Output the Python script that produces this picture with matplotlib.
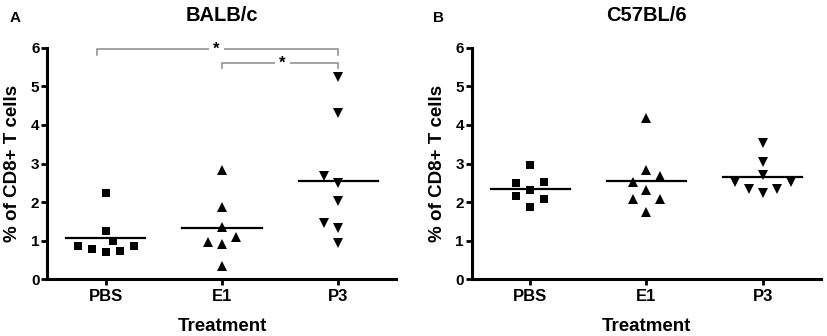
import matplotlib
matplotlib.use("Agg")
import matplotlib.pyplot as plt
import numpy as np

plt.rcParams['font.family'] = ['Liberation Sans', 'DejaVu Sans']
plt.rcParams['font.weight'] = 'bold'

categories = ["PBS", "E1", "P3"]
yticks = [0, 1, 2, 3, 4, 5, 6]

# Panel A: BALB/c
a_pbs = [0.86, 0.78, 0.72, 1.26, 2.24, 1.00, 0.74, 0.86]
a_e1 = [2.83, 1.88, 1.35, 0.97, 0.91, 1.09, 0.34]
a_p3 = [5.23, 4.32, 2.68, 2.49, 2.04, 1.47, 1.32, 0.93]
# Panel B: C57BL/6
b_pbs = [2.96, 2.50, 2.53, 2.31, 2.16, 2.07, 1.87]
b_e1 = [4.17, 2.83, 2.68, 2.53, 2.31, 2.07, 2.07, 1.75]
b_p3 = [3.52, 3.05, 2.70, 2.53, 2.53, 2.33, 2.33, 2.23]

# horizontal scatter slots (column-scatter layout, in slot units)
a_pbs_slot = [-2, -1, 0, 0, 0, 0.5, 1, 2]
a_e1_slot = [0, 0, 0, -1, 0, 1, 0]
a_p3_slot = [0, 0, -1, 0, 0, -1, 0, 0]
b_pbs_slot = [0, -1, 1, 0, -1, 1, 0]
b_e1_slot = [0, 0, 1, -1, 0, -1, 1, 0]
b_p3_slot = [0, 0, 0, -2, 2, -1, 1, 0]

markers = ['s', '^', 'v']
msizes = [5.6, 6.8, 6.8]
SLOT = 0.12

fig = plt.figure(figsize=(8.27, 3.36), dpi=100)
axA = fig.add_axes([0.0574, 0.1688, 0.422, 0.689])
axB = fig.add_axes([0.5707, 0.1688, 0.422, 0.689])

panels = [
    (axA, [a_pbs, a_e1, a_p3], [a_pbs_slot, a_e1_slot, a_p3_slot], "BALB/c"),
    (axB, [b_pbs, b_e1, b_p3], [b_pbs_slot, b_e1_slot, b_p3_slot], "C57BL/6"),
]

for ax, groups, slots, title in panels:
    for i, (vals, sl) in enumerate(zip(groups, slots)):
        xpos = i + 1 + np.array(sl) * SLOT
        ax.plot(xpos, vals, linestyle='none', marker=markers[i],
                markersize=msizes[i], color='black', markeredgewidth=0, zorder=3)
        m = np.mean(vals)
        ax.plot([i + 1 - 0.34, i + 1 + 0.34], [m, m], color='black', lw=1.6, zorder=4)
    ax.set_xlim(0.5, 3.5)
    ax.set_ylim(0, 6)
    ax.set_yticks(yticks)
    ax.set_xticks([1, 2, 3])
    ax.set_xticklabels(categories, fontsize=12, fontweight='bold')
    ax.set_yticklabels([str(t) for t in yticks], fontsize=11, fontweight='bold')
    for s in ['top', 'right']:
        ax.spines[s].set_visible(False)
    for s in ['left', 'bottom']:
        ax.spines[s].set_linewidth(2.2)
    ax.tick_params(axis='both', width=2.0, length=4.3, direction='out')
    ax.tick_params(axis='y', pad=1.5)
    ax.tick_params(axis='x', pad=3)
    ax.set_xlabel("Treatment", fontsize=13.5, fontweight='bold', labelpad=10)
    ax.set_ylabel("% of CD8+ T cells", fontsize=13.5, fontweight='bold', labelpad=7)
    ax.set_title(title, fontsize=14.5, fontweight='bold', pad=19)
    ax.patch.set_alpha(0)

fig.text(0.0121, 0.945, "A", fontsize=11, fontweight='bold', ha='left', va='center')
fig.text(0.5236, 0.945, "B", fontsize=11, fontweight='bold', ha='left', va='center')

# significance brackets on panel A
gray = '#8a8a8a'
def bracket(ax, x1, x2, y, drop, star_x):
    ax.plot([x1, x1, x2, x2], [y - drop, y, y, y - drop], color=gray, lw=1.1,
            clip_on=False, zorder=2, solid_joinstyle='miter')
    ax.text(star_x, y, "*", ha='center', va='center', fontsize=12, fontweight='bold',
            color='black', zorder=5,
            bbox=dict(boxstyle='square,pad=0.25', fc='white', ec='none'))

bracket(axA, 0.93, 3.0, 5.96, 0.15, 1.95)
bracket(axA, 2.0, 3.0, 5.61, 0.14, 2.52)

fig.savefig("out.png", dpi=100)
